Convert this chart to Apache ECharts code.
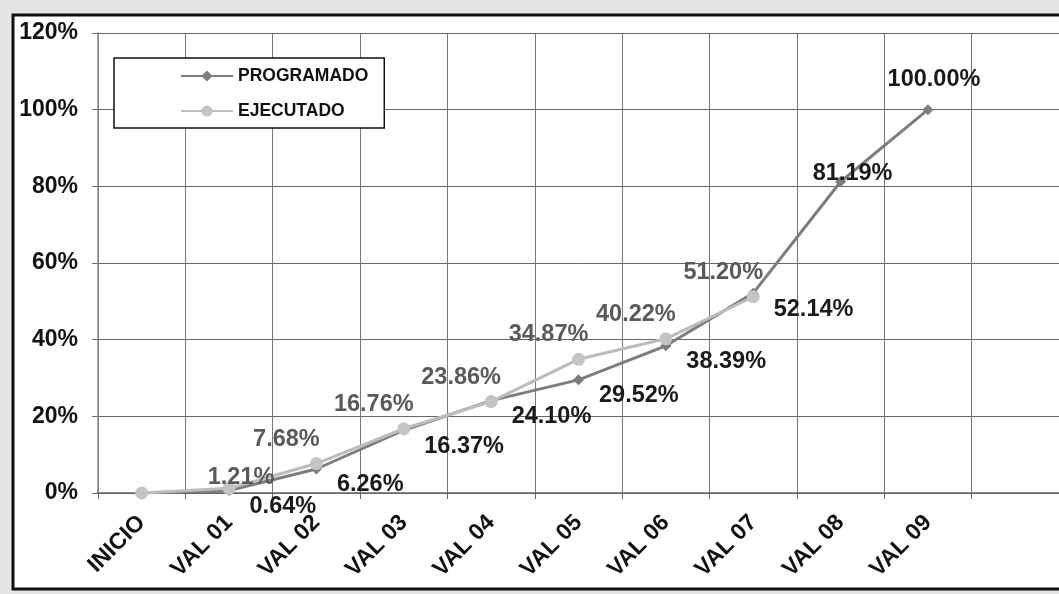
<!DOCTYPE html>
<html>
<head>
<meta charset="utf-8">
<script src="https://cdn.jsdelivr.net/npm/echarts@6/dist/echarts.min.js"></script>
<style>
  html, body { margin: 0; padding: 0; background: #e4e4e4; }
  #chart { width: 1059px; height: 594px; }
</style>
</head>
<body>
<div id="chart"></div>
<script>
// categories (one empty slot: the plot runs on to the right edge of the scan)
const categories = ['INICIO', 'VAL 01', 'VAL 02', 'VAL 03', 'VAL 04', 'VAL 05', 'VAL 06', 'VAL 07', 'VAL 08', 'VAL 09', ''];
const programado = [0, 0.64, 6.26, 16.37, 24.10, 29.52, 38.39, 52.14, 81.19, 100.00];
const ejecutado = [0, 1.21, 7.68, 16.76, 23.86, 34.87, 40.22, 51.20];
const yTicks = [0, 20, 40, 60, 80, 100, 120];

const font = 'Liberation Sans, Arial, sans-serif';
const chart = echarts.init(document.getElementById('chart'));

function pctLabel(p) {
  return p.dataIndex === 0 ? '' : p.value.toFixed(2) + '%';
}

// label placement tweaks, copied by eye from the Excel original
const progData = programado.map((v, i) => {
  if (i === 8) return { value: v, label: { position: 'top', offset: [12, 14] } };
  if (i === 9) return { value: v, label: { position: 'top', offset: [6, -8] } };
  return v;
});
const ejecData = ejecutado.map((v, i) =>
  i === 1 ? { value: v, label: { offset: [12, 13] } } : v);

const option = {
  backgroundColor: '#e4e4e4',
  animation: false,
  textStyle: { fontFamily: font },
  graphic: [{
    type: 'rect',
    z: -10,
    shape: { x: 13, y: 15, width: 1100, height: 574 },
    style: { fill: '#ffffff', stroke: '#111', lineWidth: 3 }
  }],
  legend: {
    orient: 'vertical',
    left: 114,
    top: 58,
    selectedMode: false,
    backgroundColor: '#fff',
    borderColor: '#111',
    borderWidth: 1.5,
    borderRadius: 0,
    padding: [9, 16, 8, 66],
    itemWidth: 52,
    itemHeight: 14,
    itemGap: 17,
    textStyle: { fontFamily: font, fontSize: 17.5, fontWeight: 'bold', color: '#111' },
    data: ['PROGRAMADO', 'EJECUTADO']
  },
  grid: { left: 98, right: 0, top: 33, bottom: 101 },
  xAxis: {
    type: 'category',
    data: categories,
    boundaryGap: true,
    axisLine: { lineStyle: { color: '#666', width: 1.5 } },
    axisTick: { show: true, length: 6, lineStyle: { color: '#666' } },
    splitLine: { show: true, interval: 0, lineStyle: { color: '#777', width: 1 } },
    axisLabel: {
      interval: 0,
      rotate: 45,
      margin: 26,
      fontFamily: font,
      fontSize: 23,
      fontWeight: 'bold',
      color: '#111'
    }
  },
  yAxis: {
    type: 'value',
    min: yTicks[0],
    max: yTicks[yTicks.length - 1],
    interval: 20,
    axisLine: { show: true, lineStyle: { color: '#888', width: 1.5 } },
    axisTick: { show: true, length: 6, lineStyle: { color: '#666' } },
    splitLine: { lineStyle: { color: '#666', width: 1 } },
    axisLabel: {
      margin: 20,
      fontFamily: font,
      fontSize: 23,
      fontWeight: 'bold',
      color: '#111',
      formatter: '{value}%'
    }
  },
  series: [
    {
      name: 'PROGRAMADO',
      type: 'line',
      data: progData,
      symbol: 'diamond',
      symbolSize: 11,
      lineStyle: { color: '#7d7d7d', width: 3 },
      itemStyle: { color: '#7d7d7d' },
      z: 3,
      label: {
        show: true,
        position: 'right',
        offset: [10, 16],
        fontFamily: font,
        fontSize: 23.5,
        fontWeight: 'bold',
        color: '#1a1a1a',
        formatter: pctLabel
      }
    },
    {
      name: 'EJECUTADO',
      type: 'line',
      data: ejecData,
      symbol: 'circle',
      symbolSize: 13,
      lineStyle: { color: '#bcbcbc', width: 3 },
      itemStyle: { color: '#c4c4c4' },
      z: 4,
      label: {
        show: true,
        position: 'top',
        offset: [-30, -1],
        fontFamily: font,
        fontSize: 23.5,
        fontWeight: 'bold',
        color: '#5a5a5a',
        formatter: pctLabel
      }
    }
  ]
};

chart.setOption(option);
</script>
</body>
</html>
